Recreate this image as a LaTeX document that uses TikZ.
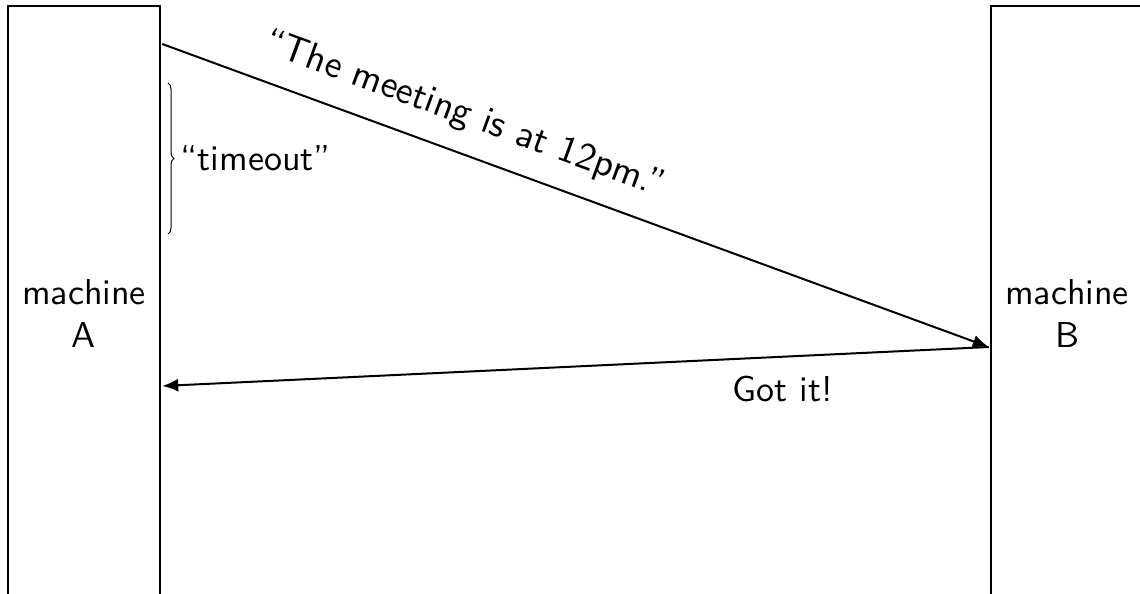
\documentclass[tikz,border=0pt]{standalone}
\usetikzlibrary{arrows.meta,decorations.pathreplacing}
\begin{document}
\begin{tikzpicture}[x=0.5pt,y=-0.5pt,
  lbl/.style={font=\sffamily,scale=1.8},
  biglbl/.style={font=\sffamily,scale=1.9},
  machine/.style={lbl,draw,line width=1.25pt,minimum width=42.22pt,minimum height=170.83pt,align=center,inner sep=0pt},
  msg/.style={line width=1pt,-{Latex[length=8pt,width=6.5pt]}},
  bracestyle/.style={line width=0.5pt,decorate,decoration={brace,amplitude=3pt}}]
\useasboundingbox (0,0) rectangle (1140,594);
\clip (0,0) rectangle (1140,594);
\node[machine] (A) at (84,313.5) {machine\\A};
\node[machine] (B) at (1067,313.5) {machine\\B};
\coordinate (a1) at (A.north east |- 0,44);
\coordinate (b1) at (B.north west |- 0,347);
\coordinate (a2) at (A.north east |- 0,386);
\coordinate (t1) at (168,83);
\coordinate (t2) at (168,234);
\draw[msg] (a1) -- node[biglbl,pos=0.35,sloped,above=1.4pt] (m1) {``The meeting is at 12pm.''} (b1);
\draw[msg] (b1) -- node[lbl,pos=0.249,below=1.5pt] (m2) {Got it!} (a2);
\draw[bracestyle] (t1) -- node[lbl,midway,right=0pt] (to) {``timeout''} (t2);
\end{tikzpicture}
\end{document}
